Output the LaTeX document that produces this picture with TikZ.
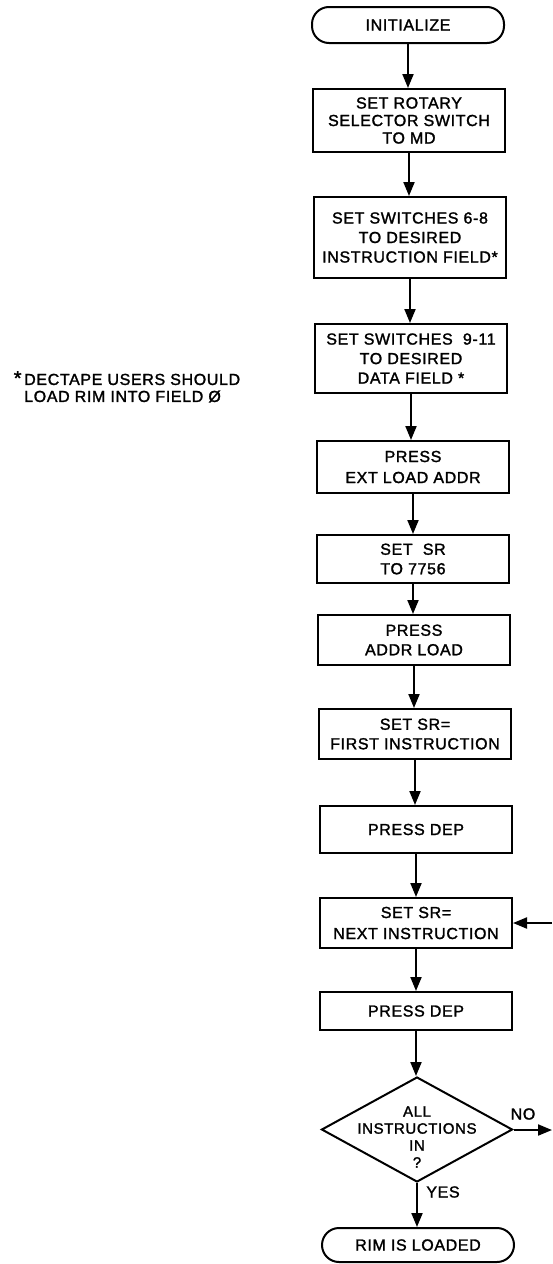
\documentclass[tikz,border=0pt]{standalone}
\usepackage{fontspec}
\setmainfont[LetterSpace=4,FakeBold=1.6]{Liberation Sans}
\usetikzlibrary{shapes.geometric,arrows.meta}
\begin{document}
\begin{tikzpicture}[x=1pt,y=-1pt,
  box/.style={draw,line width=2pt,minimum width=192pt,inner sep=0pt,align=center,
    font=\fontsize{16}{19.5}\selectfont},
  term/.style={box,rounded corners=17pt},
  arr/.style={line width=2pt,-{Triangle[length=14pt,width=11pt]}},
  lbl/.style={inner sep=0pt,font=\fontsize{16}{17}\selectfont}]
\useasboundingbox (0,0) rectangle (552,1264);
\node[term,minimum height=36pt] (init) at (408,25) {INITIALIZE};
\node[box,minimum height=63pt,font=\fontsize{16}{17.5}\selectfont] (b1) at (409,120.5) {SET ROTARY\\SELECTOR SWITCH\\TO MD};
\node[box,minimum height=81pt] (b2) at (410,237.5) {SET SWITCHES 6-8\\TO DESIRED\\INSTRUCTION FIELD*};
\node[box,minimum height=69pt] (b3) at (411,358.5) {SET SWITCHES\ \ 9-11\\TO DESIRED\\DATA FIELD\ *};
\node[box,minimum height=52pt,font=\fontsize{16}{21}\selectfont] (b4) at (413,467) {PRESS\\EXT LOAD ADDR};
\node[box,minimum height=48pt] (b5) at (413,559) {SET\ \ SR\\TO 7756};
\node[box,minimum height=50pt] (b6) at (414,640) {PRESS\\ADDR LOAD};
\node[box,minimum height=50pt] (b7) at (415,734) {SET SR=\\FIRST INSTRUCTION};
\node[box,minimum height=47pt] (b8) at (416,829.5) {PRESS DEP};
\node[box,minimum height=50pt,font=\fontsize{16}{21}\selectfont] (b9) at (416,923) {SET SR=\\NEXT INSTRUCTION};
\node[box,minimum height=38pt] (b10) at (416,1011) {PRESS DEP};
\node[draw,diamond,line width=2pt,minimum width=191pt,minimum height=105pt,inner sep=0pt] (dec) at (417,1129.5) {};
\node[lbl,align=center,font=\fontsize{15}{17}\selectfont] (dect) at (417,1137) {ALL\\INSTRUCTIONS\\IN\\?};
\node[term,minimum height=34pt] (done) at (418,1245) {RIM IS LOADED};
\node[lbl,anchor=north west,align=left] (note) at (24,371) {\llap{{\fontsize{20}{20}\selectfont *}\,}DECTAPE USERS SHOULD\\LOAD RIM INTO FIELD Ø};
\node[lbl] (nol) at (523,1114) {NO};
\node[lbl] (yesl) at (443,1192) {YES};
\coordinate (loopin) at (552,923);
\coordinate (noout) at (552,1130);
\foreach \a/\b in {init/b1,b1/b2,b2/b3,b3/b4,b4/b5,b5/b6,b6/b7,b7/b8,b8/b9,b9/b10,b10/dec,dec/done}
  \draw[arr] (\a.south) -- (\a.south |- \b.north);
\draw[arr] (loopin) -- (b9.east);
\draw[arr] (dec.east |- noout) -- (noout);
\end{tikzpicture}
\end{document}
